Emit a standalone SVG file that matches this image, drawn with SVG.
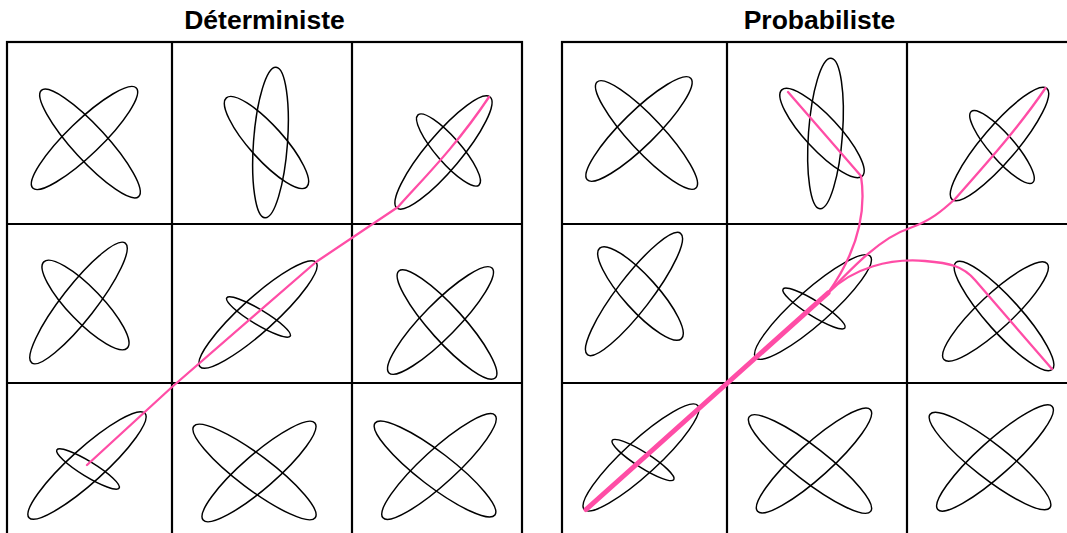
<svg xmlns="http://www.w3.org/2000/svg" width="1067" height="533" viewBox="0 0 1067 533">
<style>
.title{font-family:"Liberation Sans",Arial,Helvetica,sans-serif;font-weight:bold;font-size:26.5px;fill:#000;text-anchor:middle}
.grid{fill:none;stroke:#000;stroke-width:2.2}
.el{fill:none;stroke:#000;stroke-width:1.5}
.traj{fill:none;stroke:#FF4DA6;stroke-width:2.3;stroke-linecap:round;stroke-linejoin:round}
.thick{fill:none;stroke:#FF4DA6;stroke-width:5;stroke-linecap:round}
</style>
<rect width="1067" height="533" fill="#fff"/>
<text class="title" x="264.5" y="29">Déterministe</text>
<text class="title" x="819.5" y="29">Probabiliste</text>

<g id="det">
  <g id="det-grid" class="grid">
    <rect x="7" y="42" width="515" height="523"/>
    <line x1="172" y1="42" x2="172" y2="565"/>
    <line x1="352" y1="42" x2="352" y2="565"/>
    <line x1="7" y1="224" x2="522" y2="224"/>
    <line x1="7" y1="383" x2="522" y2="383"/>
  </g>
  <g id="det-c00" class="el">
    <ellipse cx="90" cy="143.5" rx="72" ry="17" transform="rotate(47.5 90 143.5)"/>
    <ellipse cx="84.5" cy="138" rx="72" ry="17" transform="rotate(-44 84.5 138)"/>
  </g>
  <g id="det-c01" class="el">
    <ellipse cx="270.5" cy="142.5" rx="17" ry="75.5" transform="rotate(4.2 270.5 142.5)"/>
    <ellipse cx="266.5" cy="142.5" rx="60" ry="17" transform="rotate(48 266.5 142.5)"/>
  </g>
  <g id="det-c02" class="el">
    <ellipse cx="443.5" cy="152.5" rx="72.5" ry="17.5" transform="rotate(-50 443.5 152.5)"/>
    <ellipse cx="448.5" cy="150" rx="46.5" ry="12.5" transform="rotate(49 448.5 150)"/>
  </g>
  <g id="det-c10" class="el">
    <ellipse cx="78.5" cy="303" rx="76" ry="17" transform="rotate(-52 78.5 303)"/>
    <ellipse cx="85.5" cy="305" rx="60" ry="17" transform="rotate(46 85.5 305)"/>
  </g>
  <g id="det-c11" class="el">
    <ellipse cx="258" cy="314.5" rx="78" ry="17" transform="rotate(-42 258 314.5)"/>
    <ellipse cx="258.5" cy="317" rx="37" ry="7.5" transform="rotate(31 258.5 317)"/>
  </g>
  <g id="det-c12" class="el">
    <ellipse cx="447" cy="324.5" rx="72" ry="17" transform="rotate(48 447 324.5)"/>
    <ellipse cx="440.5" cy="320.5" rx="73.5" ry="17" transform="rotate(-45.5 440.5 320.5)"/>
  </g>
  <g id="det-c20" class="el">
    <ellipse cx="87" cy="465.5" rx="78" ry="17" transform="rotate(-42 87 465.5)"/>
    <ellipse cx="88" cy="469" rx="36.5" ry="7.5" transform="rotate(31.5 88 469)"/>
  </g>
  <g id="det-c21" class="el">
    <ellipse cx="254.5" cy="472" rx="76" ry="17" transform="rotate(37 254.5 472)"/>
    <ellipse cx="259" cy="471.5" rx="74" ry="17" transform="rotate(-41 259 471.5)"/>
  </g>
  <g id="det-c22" class="el">
    <ellipse cx="435" cy="469" rx="75.5" ry="17" transform="rotate(37.5 435 469)"/>
    <ellipse cx="439" cy="466.5" rx="76" ry="17" transform="rotate(-42.5 439 466.5)"/>
  </g>
</g>

<g id="prob">
  <g id="prob-grid" class="grid">
    <rect x="562" y="42" width="515" height="523"/>
    <line x1="727" y1="42" x2="727" y2="565"/>
    <line x1="907" y1="42" x2="907" y2="565"/>
    <line x1="562" y1="224" x2="1077" y2="224"/>
    <line x1="562" y1="383" x2="1077" y2="383"/>
  </g>
  <g id="prob-c00" class="el">
    <ellipse cx="646.5" cy="135" rx="72.5" ry="17" transform="rotate(47 646.5 135)"/>
    <ellipse cx="639" cy="129" rx="72.5" ry="17" transform="rotate(-44.5 639 129)"/>
  </g>
  <g id="prob-c01" class="el">
    <ellipse cx="825.5" cy="133.5" rx="17" ry="75.5" transform="rotate(4.2 825.5 133.5)"/>
    <ellipse cx="822" cy="133" rx="59" ry="17" transform="rotate(47 822 133)"/>
  </g>
  <g id="prob-c02" class="el">
    <ellipse cx="999.5" cy="144" rx="73" ry="17.5" transform="rotate(-49.6 999.5 144)"/>
    <ellipse cx="1002" cy="147" rx="47" ry="12.5" transform="rotate(49 1002 147)"/>
  </g>
  <g id="prob-c10" class="el">
    <ellipse cx="634" cy="294" rx="76.5" ry="17" transform="rotate(-52.5 634 294)"/>
    <ellipse cx="640.5" cy="293.5" rx="61" ry="17" transform="rotate(48 640.5 293.5)"/>
  </g>
  <g id="prob-c11" class="el">
    <ellipse cx="813" cy="307" rx="76.5" ry="17" transform="rotate(-41.5 813 307)"/>
    <ellipse cx="814" cy="308.5" rx="36.5" ry="7.5" transform="rotate(32 814 308.5)"/>
  </g>
  <g id="prob-c12" class="el">
    <ellipse cx="1004" cy="316" rx="72" ry="17" transform="rotate(48 1004 316)"/>
    <ellipse cx="995.5" cy="311.5" rx="70.5" ry="17" transform="rotate(-43 995.5 311.5)"/>
  </g>
  <g id="prob-c20" class="el">
    <ellipse cx="641" cy="457.5" rx="77" ry="17" transform="rotate(-42.5 641 457.5)"/>
    <ellipse cx="643" cy="460" rx="36.5" ry="7.5" transform="rotate(32.5 643 460)"/>
  </g>
  <g id="prob-c21" class="el">
    <ellipse cx="810" cy="464" rx="77" ry="17" transform="rotate(38 810 464)"/>
    <ellipse cx="814" cy="460.5" rx="76" ry="17" transform="rotate(-42 814 460.5)"/>
  </g>
  <g id="prob-c22" class="el">
    <ellipse cx="990" cy="461" rx="76" ry="17" transform="rotate(38 990 461)"/>
    <ellipse cx="995" cy="458" rx="77" ry="17" transform="rotate(-42 995 458)"/>
  </g>
</g>

<g id="connectors">
  <path class="traj" d="M87,465 L172,387 L316,262 L398,207 C420,182 455,148 489,97"/>
  <path class="thick" d="M586,509.5 L828,293"/>
  <path class="traj" d="M828,293 C850,262 868,222 861,176 L788,92"/>
  <path class="traj" d="M828,293 C852,268 880,238 910,228 C930,221 942,211 955,199 C985,165 1020,126 1045.5,88"/>
  <path class="traj" d="M828,293 C852,268 890,258 925,261 C950,263 963,266 975,280 L1052,369"/>
</g>
</svg>
